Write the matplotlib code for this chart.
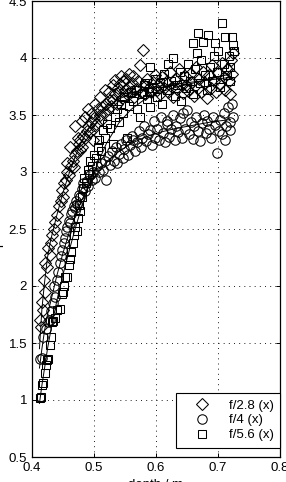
import numpy as np
import matplotlib
matplotlib.use("Agg")
import matplotlib.pyplot as plt

plt.rcParams['font.family'] = ['Liberation Sans', 'DejaVu Sans']
plt.rcParams['font.size'] = 9.5

# --- datos: profundidad (m) y potencia ---
d_f28 = [0.413, 0.415, 0.418, 0.416, 0.421, 0.419, 0.421, 0.424, 0.429, 0.426,
         0.430, 0.433, 0.436, 0.437, 0.440, 0.443, 0.446, 0.450, 0.448, 0.452,
         0.455, 0.457, 0.460, 0.463, 0.466, 0.468, 0.470, 0.472, 0.477, 0.475,
         0.478, 0.481, 0.483, 0.486, 0.488, 0.491, 0.493, 0.495, 0.498, 0.500,
         0.503, 0.506, 0.509, 0.513, 0.511, 0.516, 0.519, 0.522, 0.525, 0.528,
         0.531, 0.534, 0.537, 0.540, 0.542, 0.545, 0.547, 0.550, 0.553, 0.556,
         0.559, 0.562, 0.565, 0.568, 0.571, 0.574, 0.579, 0.577, 0.580, 0.583,
         0.586, 0.589, 0.592, 0.595, 0.598, 0.601, 0.604, 0.607, 0.610, 0.613,
         0.616, 0.619, 0.622, 0.625, 0.628, 0.631, 0.634, 0.637, 0.640, 0.643,
         0.646, 0.649, 0.652, 0.655, 0.658, 0.661, 0.664, 0.667, 0.670, 0.673,
         0.676, 0.679, 0.682, 0.685, 0.688, 0.691, 0.694, 0.697, 0.700, 0.703,
         0.706, 0.709, 0.712, 0.715, 0.718, 0.721, 0.724, 0.723, 0.719,
         0.469, 0.474, 0.480, 0.485, 0.490, 0.496, 0.502, 0.510, 0.518, 0.524,
         0.530, 0.534, 0.538, 0.544, 0.552, 0.557, 0.563, 0.498, 0.462, 0.456]
p_f28 = [1.70, 1.64, 1.79, 1.86, 1.95, 2.05, 2.20, 2.17, 2.27, 2.33,
         2.38, 2.45, 2.50, 2.56, 2.62, 2.70, 2.75, 2.78, 2.84, 2.90,
         2.93, 3.00, 2.97, 3.05, 3.10, 3.04, 3.15, 3.18, 3.19, 3.25,
         3.28, 3.22, 3.32, 3.30, 3.36, 3.40, 3.35, 3.44, 3.38, 3.47,
         3.42, 3.55, 3.50, 3.57, 3.46, 3.52, 3.60, 3.55, 3.63, 3.58,
         3.63, 3.68, 3.60, 3.70, 3.77, 3.65, 3.80, 3.72, 3.68, 3.75,
         3.70, 3.78, 3.66, 3.73, 3.80, 3.94, 4.07, 3.70, 3.76, 3.68,
         3.82, 3.74, 3.70, 3.79, 3.85, 3.72, 3.76, 3.68, 3.83, 3.74,
         3.79, 3.70, 3.88, 3.75, 3.66, 3.81, 3.73, 3.90, 3.77, 3.69,
         3.84, 3.76, 3.71, 3.86, 3.79, 3.67, 3.92, 3.74, 3.82, 3.70,
         3.88, 3.78, 3.65, 3.85, 3.74, 3.94, 3.80, 3.70, 3.87, 3.77,
         3.96, 3.83, 3.72, 3.90, 3.80, 3.98, 4.04, 3.86, 3.68,
         3.40, 3.30, 3.45, 3.48, 3.55, 3.52, 3.60, 3.66, 3.72, 3.70,
         3.76, 3.81, 3.74, 3.84, 3.82, 3.86, 3.84, 3.28, 3.22, 3.08]

d_f4 = [0.413, 0.416, 0.418, 0.422, 0.425, 0.429, 0.431, 0.434, 0.437, 0.436,
        0.440, 0.442, 0.445, 0.447, 0.449, 0.451, 0.453, 0.455, 0.457, 0.459,
        0.461, 0.463, 0.465, 0.467, 0.469, 0.471, 0.473, 0.475, 0.478, 0.480,
        0.482, 0.485, 0.488, 0.490, 0.493, 0.496, 0.499, 0.502, 0.505, 0.508,
        0.511, 0.514, 0.517, 0.520, 0.523, 0.526, 0.529, 0.532, 0.535, 0.537,
        0.540, 0.543, 0.546, 0.549, 0.552, 0.555, 0.558, 0.561, 0.563, 0.566,
        0.569, 0.572, 0.575, 0.578, 0.581, 0.584, 0.587, 0.590, 0.593, 0.596,
        0.599, 0.602, 0.605, 0.608, 0.611, 0.614, 0.617, 0.618, 0.621, 0.624,
        0.627, 0.630, 0.633, 0.636, 0.639, 0.642, 0.644, 0.647, 0.650, 0.653,
        0.656, 0.659, 0.662, 0.665, 0.668, 0.671, 0.674, 0.677, 0.680, 0.683,
        0.686, 0.689, 0.692, 0.695, 0.698, 0.701, 0.704, 0.707, 0.710, 0.713,
        0.716, 0.719, 0.722, 0.724, 0.720, 0.711]
p_f4 = [1.36, 1.37, 1.55, 1.62, 1.68, 1.70, 1.78, 1.85, 1.90, 2.00,
        2.05, 2.12, 2.20, 2.26, 2.32, 2.38, 2.42, 2.48, 2.52, 2.57,
        2.55, 2.63, 2.66, 2.70, 2.68, 2.75, 2.72, 2.80, 2.78, 2.85,
        2.90, 2.83, 2.92, 2.88, 2.97, 2.93, 3.00, 2.95, 3.05, 3.00,
        3.08, 3.02, 3.10, 2.93, 3.14, 3.06, 3.18, 3.10, 3.22, 3.08,
        3.16, 3.25, 3.12, 3.20, 3.28, 3.15, 3.24, 3.32, 3.28, 3.18,
        3.26, 3.36, 3.22, 3.30, 3.40, 3.27, 3.33, 3.37, 3.24, 3.45,
        3.30, 3.38, 3.28, 3.48, 3.34, 3.26, 3.42, 3.45, 3.31, 3.38,
        3.50, 3.28, 3.40, 3.35, 3.47, 3.30, 3.52, 3.38, 3.54, 3.33,
        3.44, 3.29, 3.40, 3.48, 3.36, 3.27, 3.43, 3.50, 3.34, 3.45,
        3.38, 3.30, 3.48, 3.41, 3.17, 3.36, 3.46, 3.33, 3.52, 3.40,
        3.57, 3.44, 3.60, 3.48, 3.37, 3.28]

d_f56 = [0.413, 0.415, 0.416, 0.418, 0.421, 0.423, 0.424, 0.426, 0.429, 0.431,
         0.432, 0.434, 0.437, 0.440, 0.445, 0.448, 0.450, 0.452, 0.454, 0.456,
         0.459, 0.461, 0.463, 0.466, 0.468, 0.470, 0.472, 0.474, 0.476, 0.478,
         0.481, 0.483, 0.484, 0.487, 0.490, 0.492, 0.494, 0.497, 0.500, 0.503,
         0.506, 0.508, 0.511, 0.515, 0.518, 0.521, 0.526, 0.531, 0.534, 0.537,
         0.540, 0.543, 0.546, 0.549, 0.553, 0.556, 0.560, 0.563, 0.567, 0.570,
         0.574, 0.577, 0.580, 0.582, 0.585, 0.588, 0.590, 0.590, 0.594, 0.598,
         0.602, 0.606, 0.610, 0.613, 0.617, 0.620, 0.624, 0.627, 0.630, 0.634,
         0.638, 0.641, 0.645, 0.648, 0.652, 0.655, 0.659, 0.660, 0.663, 0.666,
         0.668, 0.671, 0.673, 0.676, 0.679, 0.682, 0.684, 0.687, 0.690, 0.693,
         0.695, 0.698, 0.700, 0.703, 0.706, 0.709, 0.711, 0.714, 0.717, 0.720,
         0.722, 0.724, 0.726, 0.719]
p_f56 = [1.02, 1.03, 1.13, 1.15, 1.24, 1.31, 1.35, 1.36, 1.48, 1.55,
         1.68, 1.69, 1.72, 1.79, 1.80, 1.93, 1.95, 2.00, 2.08, 2.08,
         2.18, 2.24, 2.30, 2.38, 2.45, 2.52, 2.48, 2.60, 2.71, 2.66,
         2.78, 2.86, 2.95, 2.90, 3.02, 2.98, 3.10, 3.05, 3.15, 3.12,
         3.22, 3.28, 3.18, 3.37, 3.30, 3.42, 3.39, 3.25, 3.48, 3.55,
         3.44, 3.60, 3.52, 3.66, 3.30, 3.58, 3.70, 3.62, 3.72, 3.55,
         3.48, 3.68, 3.76, 3.78, 3.64, 3.70, 3.57, 3.92, 3.74, 3.82,
         3.66, 3.78, 3.60, 3.86, 3.72, 3.95, 3.80, 4.00, 3.67, 3.76,
         3.88, 3.62, 3.84, 3.74, 3.95, 3.80, 3.68, 4.13, 3.90, 4.04,
         4.22, 3.78, 3.98, 4.14, 3.85, 3.72, 4.20, 3.92, 3.80, 4.02,
         4.13, 3.88, 4.06, 3.75, 4.31, 3.95, 4.18, 3.85, 4.02, 3.92,
         4.18, 4.11, 4.06, 3.80]

# curvas de ajuste (nodos)
fit_d = [0.412, 0.416, 0.420, 0.425, 0.430, 0.440, 0.450, 0.460, 0.470, 0.480,
         0.490, 0.500, 0.520, 0.540, 0.560, 0.580, 0.600, 0.630, 0.660, 0.690, 0.720]
fit_f28 = [1.45, 1.80, 2.02, 2.25, 2.40, 2.62, 2.82, 2.99, 3.14, 3.27,
           3.37, 3.45, 3.57, 3.64, 3.69, 3.72, 3.75, 3.77, 3.79, 3.81, 3.83]
fit_f4 = [1.28, 1.45, 1.60, 1.75, 1.86, 2.09, 2.29, 2.47, 2.62, 2.75,
          2.86, 2.95, 3.09, 3.18, 3.25, 3.30, 3.34, 3.38, 3.41, 3.44, 3.46]
fit_f56 = [0.97, 1.13, 1.27, 1.45, 1.60, 1.87, 2.10, 2.31, 2.51, 2.69,
           2.86, 3.00, 3.25, 3.43, 3.55, 3.63, 3.69, 3.74, 3.78, 3.82, 3.86]

fig = plt.figure(figsize=(2.86, 4.82), dpi=100)
ax = fig.add_axes([32 / 286, 25 / 482, 248 / 286, 456 / 482])

mk = dict(linestyle='none', markerfacecolor='none', markeredgecolor='black',
          markeredgewidth=0.75)
ax.plot(d_f28, p_f28, marker='D', markersize=5.8, label='f/2.8 (x)', **mk)
ax.plot(d_f4, p_f4, marker='o', markersize=6.8, label='f/4 (x)', **mk)
ax.plot(d_f56, p_f56, marker='s', markersize=5.8, label='f/5.6 (x)', **mk)

for fit in (fit_f28, fit_f4, fit_f56):
    ax.plot(fit_d, fit, color='black', linewidth=0.7)

ax.set_xlim(0.4, 0.8)
ax.set_ylim(0.5, 4.5)
ax.set_xticks(np.arange(0.4, 0.81, 0.1))
ax.set_yticks(np.arange(0.5, 4.51, 0.5))
ax.set_xticklabels(['0.4', '0.5', '0.6', '0.7', '0.8'])
ax.set_yticklabels(['0.5', '1', '1.5', '2', '2.5', '3', '3.5', '4', '4.5'])
ax.tick_params(direction='in', length=3, width=0.7, top=True, right=True,
               labelsize=9.5, colors='black')
ax.grid(True, color='black', linewidth=0.6, linestyle=(0, (1.2, 5)))
for s in ax.spines.values():
    s.set_linewidth(0.9)

ax.set_xlabel('depth / m')
ax.set_ylabel('power')

leg = ax.legend(loc='lower right', bbox_to_anchor=(1.0, 0.02), borderaxespad=0,
                fancybox=False, edgecolor='black', framealpha=1,
                handlelength=3.0, handletextpad=0.5, borderpad=0.5,
                labelspacing=0.2, fontsize=9.5)
leg.get_frame().set_linewidth(0.8)

fig.savefig('out.png', dpi=100)
